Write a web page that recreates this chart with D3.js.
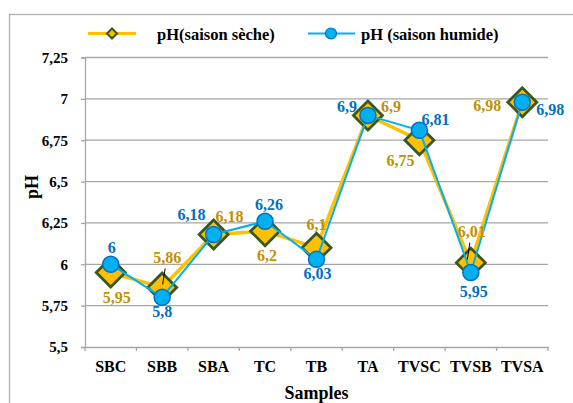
<!DOCTYPE html>
<html>
<head>
<meta charset="utf-8">
<script src="https://cdn.jsdelivr.net/npm/d3@7"></script>
<style>
  body { margin: 0; background: #fff; }
  svg text { font-family: "Liberation Serif", "Times New Roman", serif; font-weight: bold; }
</style>
</head>
<body>
<div id="chart"></div>
<script>
var samples = ["SBC", "SBB", "SBA", "TC", "TB", "TA", "TVSC", "TVSB", "TVSA"];
var phDry = [5.95, 5.86, 6.18, 6.2, 6.1, 6.9, 6.75, 6.01, 6.98];
var phWet = [6, 5.8, 6.18, 6.26, 6.03, 6.9, 6.81, 5.95, 6.98];
var yTicks = [5.5, 5.75, 6, 6.25, 6.5, 6.75, 7, 7.25];

// where each data label sits relative to its point (dx, dy of the text centre)
var dryLabelAt = [[6, 25], [5, -30], [16, -18], [2, 24], [0, -23], [23, -9], [-19, 20], [1, -31], [-35, 3]];
var wetLabelAt = [[1, -17], [0, 14], [-22, -20], [4, -17], [1, 14], [-21, -9], [16, -11], [3, 19], [28, 7]];
// small leader lines drawn by excel
var dryLeaders = [1, 7];

var w = 573, h = 403;
var plotL = 85, plotR = 548, plotT = 57.5, plotB = 347;

var svg = d3.select("#chart").append("svg")
    .attr("width", w)
    .attr("height", h);

// outer frame
svg.append("rect")
    .attr("x", 9.5).attr("y", 14.5)
    .attr("width", 600).attr("height", 420)
    .attr("fill", "none")
    .attr("stroke", "#b0b0b0")
    .attr("stroke-width", 1.3);

var x = d3.scaleBand()
    .domain(samples)
    .range([plotL, plotR]);

var y = d3.scaleLinear()
    .domain([5.5, 7.25])
    .range([plotB, plotT]);

var cx = function(i) { return x(samples[i]) + x.bandwidth() / 2; };

// gridlines
svg.append("g").selectAll("line")
    .data(yTicks.slice(1))
    .enter().append("line")
    .attr("x1", plotL).attr("x2", plotR)
    .attr("y1", function(d) { return y(d); })
    .attr("y2", function(d) { return y(d); })
    .attr("stroke", "#a6a6a6")
    .attr("stroke-width", 1.3);

// y axis
var yAxis = svg.append("g")
    .attr("transform", "translate(" + plotL + ",0)")
    .call(d3.axisLeft(y).tickValues(yTicks).tickSize(4).tickPadding(13)
        .tickFormat(function(d) { return String(d).replace(".", ","); }));
yAxis.select(".domain").attr("stroke", "#a6a6a6").attr("stroke-width", 1.3);
yAxis.selectAll(".tick line").attr("stroke", "#a6a6a6").attr("stroke-width", 1.3);
yAxis.selectAll(".tick text")
    .attr("fill", "#000")
    .style("font-size", "15px")
    .style("font-family", "'Liberation Serif', serif");

// x axis
var xAxis = svg.append("g")
    .attr("transform", "translate(0," + plotB + ")")
    .call(d3.axisBottom(x).tickSize(0).tickPadding(14));
xAxis.select(".domain").attr("stroke", "#a6a6a6").attr("stroke-width", 1.3);
xAxis.selectAll(".tick text")
    .attr("fill", "#000")
    .style("font-size", "16px")
    .style("font-family", "'Liberation Serif', serif");
svg.append("g").selectAll("line")
    .data(d3.range(samples.length + 1))
    .enter().append("line")
    .attr("x1", function(i) { return plotL + i * x.bandwidth(); })
    .attr("x2", function(i) { return plotL + i * x.bandwidth(); })
    .attr("y1", plotB).attr("y2", plotB + 4)
    .attr("stroke", "#a6a6a6")
    .attr("stroke-width", 1.3);

// axis titles
svg.append("text")
    .attr("x", (plotL + plotR) / 2).attr("y", 399)
    .attr("text-anchor", "middle")
    .style("font-size", "18px")
    .text("Samples");

svg.append("text")
    .attr("transform", "translate(38,187) rotate(-90)")
    .attr("text-anchor", "middle")
    .style("font-size", "18px")
    .text("pH");

// lines
var line = d3.line()
    .x(function(d, i) { return cx(i); })
    .y(function(d) { return y(d); });

var diamond = function(s) {
  return "M0," + (-s) + "L" + s + ",0L0," + s + "L" + (-s) + ",0Z";
};

svg.append("path")
    .datum(phDry)
    .attr("d", line)
    .attr("fill", "none")
    .attr("stroke", "#ffc000")
    .attr("stroke-width", 3.5);

svg.append("g").selectAll("path")
    .data(phDry)
    .enter().append("path")
    .attr("d", diamond(14.5))
    .attr("transform", function(d, i) { return "translate(" + cx(i) + "," + y(d) + ")"; })
    .attr("fill", "#ffc000")
    .attr("stroke", "#385723")
    .attr("stroke-width", 2.8);

svg.append("path")
    .datum(phWet)
    .attr("d", line)
    .attr("fill", "none")
    .attr("stroke", "#00b0f0")
    .attr("stroke-width", 2);

svg.append("g").selectAll("circle")
    .data(phWet)
    .enter().append("circle")
    .attr("cx", function(d, i) { return cx(i); })
    .attr("cy", function(d) { return y(d); })
    .attr("r", 8)
    .attr("fill", "#00b0f0")
    .attr("stroke", "#0070c0")
    .attr("stroke-width", 1.5);

// leader lines
svg.append("g").selectAll("line")
    .data(dryLeaders)
    .enter().append("line")
    .attr("x1", function(i) { return cx(i) + dryLabelAt[i][0] - 2; })
    .attr("y1", function(i) { return y(phDry[i]) + dryLabelAt[i][1] + 11; })
    .attr("x2", function(i) { return cx(i) + dryLabelAt[i][0] - 4.5; })
    .attr("y2", function(i) { return y(phDry[i]) - 3; })
    .attr("stroke", "#000")
    .attr("stroke-width", 1);

// data labels
var fmt = function(d) { return String(d).replace(".", ","); };

svg.append("g").selectAll("text")
    .data(phDry)
    .enter().append("text")
    .attr("x", function(d, i) { return cx(i) + dryLabelAt[i][0]; })
    .attr("y", function(d, i) { return y(d) + dryLabelAt[i][1] + 5.5; })
    .attr("text-anchor", "middle")
    .attr("fill", "#bf9000")
    .style("font-size", "16px")
    .text(fmt);

svg.append("g").selectAll("text")
    .data(phWet)
    .enter().append("text")
    .attr("x", function(d, i) { return cx(i) + wetLabelAt[i][0]; })
    .attr("y", function(d, i) { return y(d) + wetLabelAt[i][1] + 5.5; })
    .attr("text-anchor", "middle")
    .attr("fill", "#0070c0")
    .style("font-size", "16px")
    .text(fmt);

// legend
var lg = svg.append("g");
lg.append("line")
    .attr("x1", 88).attr("x2", 136).attr("y1", 33.5).attr("y2", 33.5)
    .attr("stroke", "#ffc000").attr("stroke-width", 3);
lg.append("path")
    .attr("d", diamond(5))
    .attr("transform", "translate(112,33.5)")
    .attr("fill", "#ffc000").attr("stroke", "#385723").attr("stroke-width", 2);
lg.append("text")
    .attr("x", 157).attr("y", 39.5)
    .style("font-size", "16.5px")
    .text("pH(saison sèche)");

lg.append("line")
    .attr("x1", 308).attr("x2", 355).attr("y1", 33.5).attr("y2", 33.5)
    .attr("stroke", "#00b0f0").attr("stroke-width", 2);
lg.append("circle")
    .attr("cx", 331).attr("cy", 33.5).attr("r", 5.5)
    .attr("fill", "#00b0f0").attr("stroke", "#0070c0").attr("stroke-width", 1.2);
lg.append("text")
    .attr("x", 361).attr("y", 39.5)
    .style("font-size", "16.5px")
    .text("pH (saison humide)");
</script>
</body>
</html>
